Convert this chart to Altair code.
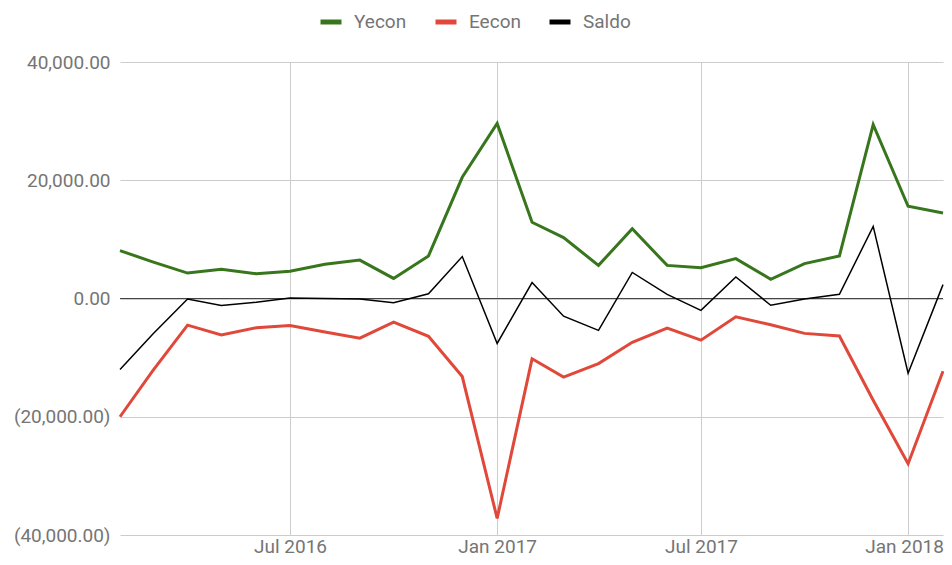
import altair as alt
import pandas as pd

months = [
    "2016-02-01", "2016-03-01", "2016-04-01", "2016-05-01", "2016-06-01",
    "2016-07-01", "2016-08-01", "2016-09-01", "2016-10-01", "2016-11-01",
    "2016-12-01", "2017-01-01", "2017-02-01", "2017-03-01", "2017-04-01",
    "2017-05-01", "2017-06-01", "2017-07-01", "2017-08-01", "2017-09-01",
    "2017-10-01", "2017-11-01", "2017-12-01", "2018-01-01", "2018-02-01",
]
yecon = [8100, 6200, 4300, 4950, 4200, 4600, 5800, 6500, 3400, 7200, 20500,
         29600, 12900, 10300, 5600, 11800, 5600, 5200, 6750, 3250, 5900, 7200,
         29400, 15600, 14450]
eecon = [-20000, -12250, -4500, -6150, -4950, -4550, -5650, -6700, -4000,
         -6400, -13200, -37200, -10200, -13300, -11000, -7400, -5000, -7050,
         -3100, -4450, -5900, -6350, -17200, -27950, -12300]
saldo = [-12000, -6050, -100, -1200, -650, 100, 0, -100, -700, 800, 7100,
         -7600, 2700, -3000, -5400, 4400, 700, -2000, 3650, -1150, -100, 700,
         12200, -12650, 2350]

series_names = ["Yecon", "Eecon", "Saldo"]
series_colors = ["#38761d", "#e0483a", "#000000"]
y_ticks = [-40000, -20000, 0, 20000, 40000]
x_ticks = [(2016, 7), (2017, 1), (2017, 7), (2018, 1)]

rows = []
for name, vals in zip(series_names, [yecon, eecon, saldo]):
    for m, v in zip(months, vals):
        rows.append({"date": m, "series": name, "value": v})
df = pd.DataFrame(rows)

font = "Roboto"
gray = "#757575"

x_enc = alt.X(
    "date:T",
    scale=alt.Scale(
        type="utc",
        domain=[alt.DateTime(year=2016, month=2, date=1, utc=True),
                alt.DateTime(year=2018, month=2, date=1, utc=True)],
        nice=False,
    ),
    axis=alt.Axis(
        values=[alt.DateTime(year=y, month=m, date=1, utc=True) for y, m in x_ticks],
        labelExpr="utcFormat(datum.value, '%b %Y')",
        grid=True, gridColor="#cccccc", ticks=False, domain=False, title=None,
        labelFont=font, labelFontSize=19, labelColor=gray, labelPadding=2,
        labelBound=False, labelFlush=False, labelOverlap=False,
        labelOffset={"condition": {"test": "datum.value > 1510000000000", "value": -4}, "value": 0},
    ),
)
y_enc = alt.Y(
    "value:Q",
    scale=alt.Scale(domain=[-40000, 40000], nice=False),
    axis=alt.Axis(
        values=y_ticks,
        labelExpr="datum.value < 0 ? '(' + format(-datum.value, ',.2f') + ')' : format(datum.value, ',.2f')",
        grid=True, gridColor="#cccccc", ticks=False, domain=False, title=None,
        labelFont=font, labelFontSize=19, labelColor=gray, labelPadding=10,
    ),
)

zero = alt.Chart(df).mark_rule(color="#444444", strokeWidth=1).encode(
    y=alt.datum(0)
)

lines = alt.Chart(df).mark_line(interpolate="linear").encode(
    x=x_enc,
    y=y_enc,
    color=alt.Color(
        "series:N",
        scale=alt.Scale(domain=series_names, range=series_colors),
        sort=series_names,
        legend=alt.Legend(
            orient="none", legendX=198, legendY=-53, direction="horizontal",
            title=None, symbolType="stroke", symbolSize=441,
            symbolStrokeWidth=5, labelFont=font, labelFontSize=19,
            labelColor=gray, labelOffset=10, columnPadding=18, padding=0,
        ),
    ),
    strokeWidth=alt.condition(alt.datum.series == "Saldo", alt.value(1.5), alt.value(3)),
)

chart = alt.layer(zero, lines).properties(
    width=823,
    height=473,
    autosize=alt.AutoSizeParams(type="none"),
    padding={"left": 112, "top": 54, "right": 1, "bottom": 22},
    background="white",
).configure_view(strokeWidth=0)

chart.save("out.html", embed_options={"renderer": "svg", "actions": False})
